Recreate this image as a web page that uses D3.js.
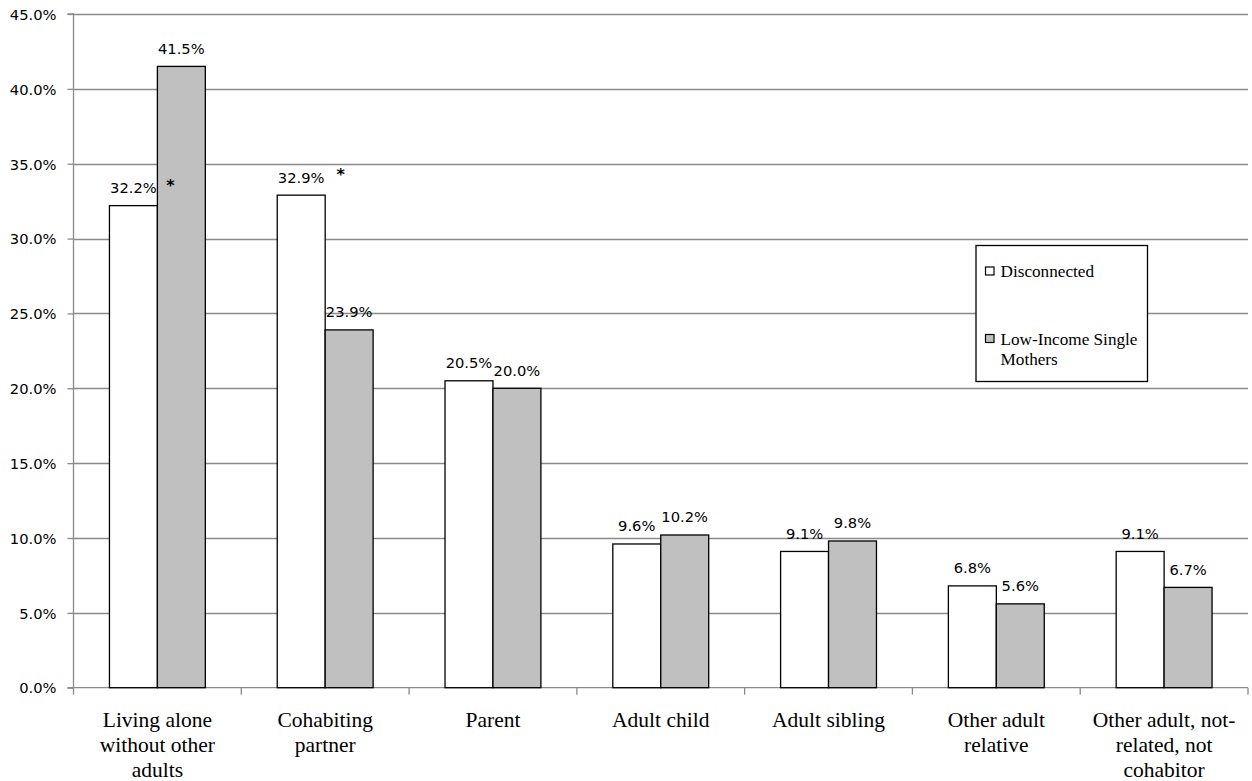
<!DOCTYPE html>
<html>
<head>
<meta charset="utf-8">
<script src="https://cdn.jsdelivr.net/npm/d3@7"></script>
<style>
  html, body { margin: 0; padding: 0; background: #fff; }
  svg { display: block; }
</style>
</head>
<body>
<svg id="chart" width="1252" height="781"></svg>
<script>
// ---- data ----
const categories = [
  "Living alone without other adults",
  "Cohabiting partner",
  "Parent",
  "Adult child",
  "Adult sibling",
  "Other adult relative",
  "Other adult, not-related, not cohabitor"
];
const categoryLines = [
  ["Living alone", "without other", "adults"],
  ["Cohabiting", "partner"],
  ["Parent"],
  ["Adult child"],
  ["Adult sibling"],
  ["Other adult", "relative"],
  ["Other adult, not-", "related, not", "cohabitor"]
];
const seriesNames = ["Disconnected", "Low-Income Single Mothers"];
const disconnected = [32.2, 32.9, 20.5, 9.6, 9.1, 6.8, 9.1];
const lowIncome = [41.5, 23.9, 20.0, 10.2, 9.8, 5.6, 6.7];
const yTicks = [0, 5, 10, 15, 20, 25, 30, 35, 40, 45];
const significant = [0, 1]; // categories marked with an asterisk

// ---- layout ----
const svg = d3.select("#chart");
const mLeft = 73.5, mRight = 1248, mTop = 14, mBottom = 687.7;
const fills = ["#ffffff", "#c0c0c0"];
const gridColor = "#8a8a8a";
const sans = "'DejaVu Sans', sans-serif";
const serif = "'Liberation Serif', 'Times New Roman', serif";

const x0 = d3.scaleBand().domain(d3.range(categories.length)).range([mLeft, mRight]).padding(0);
const x1 = d3.scaleBand().domain(d3.range(seriesNames.length)).range([0, x0.bandwidth()])
  .paddingInner(0).paddingOuter(0.75);
const y = d3.scaleLinear().domain([0, 45]).range([mBottom, mTop]);

const series = [disconnected, lowIncome];

// gridlines
svg.append("g").selectAll("line").data(yTicks.filter(t => t > 0)).join("line")
  .attr("x1", mLeft).attr("x2", mRight)
  .attr("y1", d => Math.round(y(d)) + 0.5).attr("y2", d => Math.round(y(d)) + 0.5)
  .attr("stroke", gridColor).attr("stroke-width", 1.3);

// y axis
const yAxis = d3.axisLeft(y).tickValues(yTicks).tickSize(6).tickPadding(11)
  .tickFormat(d => d.toFixed(1) + "%");
const gy = svg.append("g").attr("transform", `translate(${mLeft},0)`).call(yAxis);
gy.select(".domain").attr("stroke", gridColor).attr("stroke-width", 1.3).attr("d", `M-6,${mBottom}H0V${mTop}H-6`);
gy.selectAll(".tick line").attr("stroke", gridColor).attr("stroke-width", 1.3);
gy.selectAll(".tick text").attr("font-family", sans).attr("font-size", "14.7px")
  .attr("fill", "#000").attr("dy", "0.36em");

// x axis
const xTickPos = d3.range(categories.length + 1).map(i => mLeft + i * x0.step());
const gx = svg.append("g");
gx.append("line").attr("x1", mLeft).attr("x2", mRight).attr("y1", mBottom).attr("y2", mBottom)
  .attr("stroke", gridColor).attr("stroke-width", 1.3);
gx.selectAll("line.tk").data(xTickPos).join("line").attr("class", "tk")
  .attr("x1", d => d).attr("x2", d => d).attr("y1", mBottom).attr("y2", mBottom + 7)
  .attr("stroke", gridColor).attr("stroke-width", 1.3);

// category labels
const labG = svg.append("g");
categoryLines.forEach((lines, i) => {
  const t = labG.append("text")
    .attr("x", x0(i) + x0.bandwidth() / 2)
    .attr("text-anchor", "middle")
    .attr("font-family", serif).attr("font-size", "21.5px").attr("fill", "#000");
  lines.forEach((ln, k) => {
    t.append("tspan").attr("x", x0(i) + x0.bandwidth() / 2).attr("y", mBottom + 39.5 + k * 25).text(ln);
  });
});

// bars
const groups = svg.append("g").selectAll("g").data(categories).join("g")
  .attr("transform", (d, i) => `translate(${x0(i)},0)`);
series.forEach((vals, s) => {
  groups.append("rect")
    .attr("x", x1(s)).attr("width", x1.bandwidth())
    .attr("y", (d, i) => y(vals[i])).attr("height", (d, i) => mBottom - y(vals[i]))
    .attr("fill", fills[s]).attr("stroke", "#000").attr("stroke-width", 1.3);
  groups.append("text")
    .attr("x", x1(s) + x1.bandwidth() / 2)
    .attr("y", (d, i) => y(vals[i]) - 12.5)
    .attr("text-anchor", "middle")
    .attr("font-family", sans).attr("font-size", "14.7px").attr("fill", "#000")
    .text((d, i) => vals[i].toFixed(1) + "%");
});

// significance asterisks
svg.append("g").selectAll("text").data(significant).join("text")
  .attr("x", i => x0(i) + x1(1) + (i === 0 ? 13 : 15.5))
  .attr("y", i => y(disconnected[i]) - 15)
  .attr("text-anchor", "middle")
  .attr("font-family", sans).attr("font-weight", "bold").attr("font-size", "16px")
  .attr("fill", "#000").text("*");

// legend
const lg = svg.append("g");
lg.append("rect").attr("x", 976).attr("y", 245.5).attr("width", 171.5).attr("height", 136)
  .attr("fill", "#fff").attr("stroke", "#000").attr("stroke-width", 1.3);
const legendRows = [
  { lines: ["Disconnected"], y: 277 },
  { lines: ["Low-Income Single", "Mothers"], y: 344.5 }
];
legendRows.forEach((r, s) => {
  lg.append("rect").attr("x", 985.5).attr("y", r.y - 10).attr("width", 8.5).attr("height", 8)
    .attr("fill", fills[s]).attr("stroke", "#000").attr("stroke-width", 1.2);
  const t = lg.append("text").attr("font-family", serif).attr("font-size", "17.2px").attr("fill", "#000");
  r.lines.forEach((ln, k) => t.append("tspan").attr("x", 1000.5).attr("y", r.y + k * 20).text(ln));
});
</script>
</body>
</html>
